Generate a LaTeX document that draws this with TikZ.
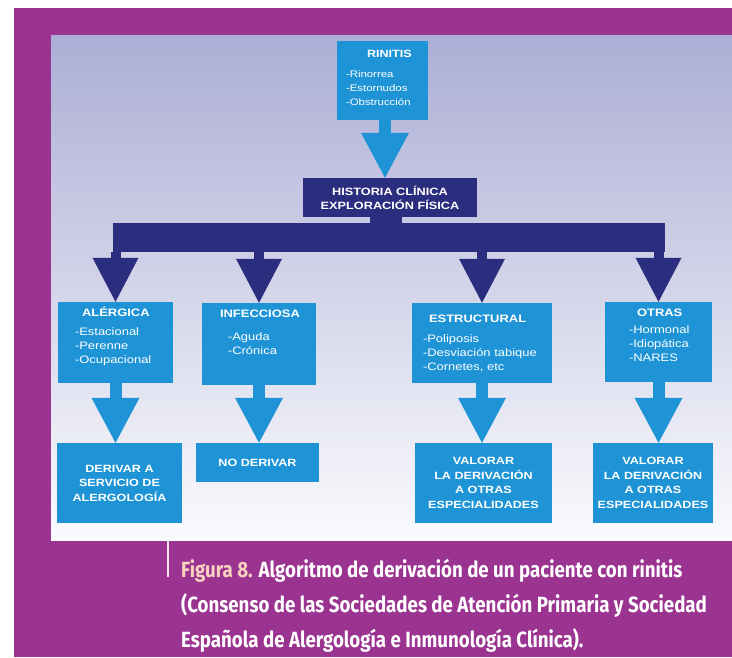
\documentclass[tikz,border=0pt]{standalone}
\usepackage{fontspec}
\usepackage{tikz}
\usetikzlibrary{positioning,arrows.meta}
\setmainfont{Liberation Sans}
\newfontfamily\boxfont[FakeStretch=1.2]{Liberation Sans}
\newfontfamily\capfont[FakeStretch=0.85]{Fira Sans}
\definecolor{hojapurple}{RGB}{155,51,145}
\definecolor{panelTop}{RGB}{172,174,214}
\definecolor{panelMid}{RGB}{222,224,239}
\definecolor{panelBot}{RGB}{250,251,253}
\definecolor{boxblue}{RGB}{30,148,214}
\definecolor{navy}{RGB}{43,46,127}
\definecolor{peach}{RGB}{250,210,192}
\definecolor{capline}{RGB}{240,226,236}

\begin{document}
\begin{tikzpicture}[x=1pt, y=-1pt,
	box/.style={fill=boxblue, inner sep=0pt},
	boxtxt/.style={text=white, inner sep=0pt, font=\boxfont\fontsize{#1}{14}\selectfont},
	boxtxt/.default=10.8,
	endtxt/.style={text=white, align=center, font=\boxfont\bfseries\fontsize{10.5}{14.5}\selectfont},
	bluearrow/.style={draw=boxblue, line width=12pt, -{Triangle[width=48pt, length=45pt, line width=0pt]}},
	navyarrow/.style={draw=navy, line width=10pt, -{Triangle[width=46pt, length=44pt, line width=0pt]}},
	caption/.style={text=white, inner sep=0pt, anchor=base west, font=\capfont\bfseries\fontsize{22}{35}\selectfont}]
\useasboundingbox (0,0) rectangle (732,657);
% page and panel
\fill[white] (0,0) rectangle (732,657);
\fill[hojapurple] (14,8) rectangle (732,657);
\shade[top color=panelTop, middle color=panelMid, bottom color=panelBot] (51,35) rectangle (732,540);

% top
\node[box, minimum width=91pt, minimum height=79pt] (rinitis) at (382.5,80.5) {};
\node[boxtxt=9.5, below right=7pt and 9pt of rinitis.north west] (rinitistxt) {\begin{tabular}{@{}l@{}}
	\hspace*{21pt}\bfseries\fontsize{10.5}{14}\selectfont RINITIS\\[6pt]
	-Rinorrea\\ -Estornudos\\ -Obstrucción
\end{tabular}};
\node[fill=navy, text=white, align=center, inner sep=0pt, minimum width=174pt, minimum height=39pt,
	font=\boxfont\bfseries\fontsize{10.6}{14}\selectfont] (historia) at (390,197.5) {HISTORIA CLÍNICA\\EXPLORACIÓN FÍSICA};
\node[fill=navy, inner sep=0pt, minimum width=552pt, minimum height=29pt] (bus) at (389,237.5) {};

% categories
\node[box, minimum width=115pt, minimum height=81pt] (alergica) at (115.5,342.5) {};
\node[boxtxt, below right=5pt and 17pt of alergica.north west] (alergicatxt) {\begin{tabular}{@{}l@{}}
	\hspace*{7pt}\bfseries ALÉRGICA\\[5pt]
	-Estacional\\ -Perenne\\ -Ocupacional
\end{tabular}};
\node[box, minimum width=114pt, minimum height=82pt] (infecciosa) at (259,344) {};
\node[boxtxt, below right=5pt and 18pt of infecciosa.north west] (infecciosatxt) {\begin{tabular}{@{}l@{}}
	\bfseries INFECCIOSA\\[9pt]
	\hspace*{8pt}-Aguda\\ \hspace*{8pt}-Crónica
\end{tabular}};
\node[box, minimum width=140pt, minimum height=80pt] (estructural) at (482,343) {};
\node[boxtxt, below right=10pt and 11pt of estructural.north west] (estructuraltxt) {\begin{tabular}{@{}l@{}}
	\hspace*{6pt}\bfseries ESTRUCTURAL\\[6pt]
	-Poliposis\\ -Desviación tabique\\ -Cornetes, etc
\end{tabular}};
\node[box, minimum width=107pt, minimum height=80pt] (otras) at (658.5,342) {};
\node[boxtxt, below right=5pt and 24pt of otras.north west] (otrastxt) {\begin{tabular}{@{}l@{}}
	\hspace*{8pt}\bfseries OTRAS\\[3pt]
	-Hormonal\\ -Idiopática\\ -NARES
\end{tabular}};

% outcomes
\node[box, endtxt, minimum width=125pt, minimum height=80pt] (derivar) at (119.5,483) {DERIVAR A\\SERVICIO DE\\ALERGOLOGÍA};
\node[box, endtxt, minimum width=123pt, minimum height=39pt] (noderivar) at (257.5,462.5) {NO DERIVAR};
\node[box, endtxt, minimum width=137pt, minimum height=80pt] (valorarA) at (483.5,483) {VALORAR\\LA DERIVACIÓN\\A OTRAS\\ESPECIALIDADES};
\node[box, endtxt, minimum width=120pt, minimum height=80pt] (valorarB) at (653,483) {VALORAR\\LA DERIVACIÓN\\A OTRAS\\ESPECIALIDADES};

% connectors
\draw[bluearrow] ([xshift=2.5pt]rinitis.south) -- ([xshift=2.5pt]rinitis.south |- historia.north);
\draw[draw=navy, line width=32pt] ([xshift=-4pt]historia.south) -- ([xshift=-4pt]historia.south |- bus.north);
\foreach \cat in {alergica, infecciosa, estructural, otras}
	\draw[navyarrow] (bus.south -| \cat.north) -- (\cat.north);
\draw[bluearrow] (alergica.south) -- (alergica.south |- derivar.north);
\draw[bluearrow] (infecciosa.south) -- (infecciosa.south |- noderivar.north);
\draw[bluearrow] (estructural.south) -- (estructural.south |- valorarA.north);
\draw[bluearrow] (otras.south) -- (otras.south |- valorarB.north);

% caption
\draw[capline, line width=1.5pt] (168,540) -- (168,577);
\node[caption] (capA) at (181,577) {\textcolor{peach}{Figura 8.} Algoritmo de derivación de un paciente con rinitis};
\node[caption] (capB) at (181,612) {(Consenso de las Sociedades de Atención Primaria y Sociedad};
\node[caption] (capC) at (181,647) {Española de Alergología e Inmunología Clínica).};
\end{tikzpicture}
\end{document}
